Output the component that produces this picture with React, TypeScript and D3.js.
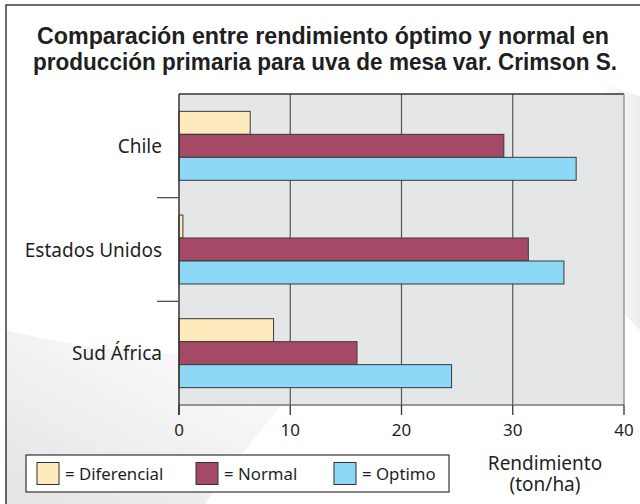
import React from "react";
import * as d3 from "d3";

const countries = ["Chile", "Estados Unidos", "Sud África"];
const seriesKeys = ["Diferencial", "Normal", "Optimo"];
const diferencial = [6.4, 0.35, 8.5];
const normal = [29.2, 31.4, 16.0];
const optimo = [35.7, 34.6, 24.5];
const xTicks = [0, 10, 20, 30, 40];
const titleLines = [
  "Comparación entre rendimiento óptimo y normal en",
  "producción primaria para uva de mesa var. Crimson S.",
];
const axisTitle = ["Rendimiento", "(ton/ha)"];

const seriesColors: Record<string, string> = {
  Diferencial: "#fdeabd",
  Normal: "#a44a66",
  Optimo: "#8dd7f7",
};

const width = 640;
const height = 504;
const plot = { left: 179, right: 624, top: 94, bottom: 405 };
const bodyFont = "'Noto Sans', 'Open Sans', sans-serif";
const titleFont = "'Liberation Sans', Arial, sans-serif";
const textColor = "#1f1f1f";
const titleSpan = [
  { x: 37, w: 572 },
  { x: 33, w: 584 },
];

export default function App() {
  const x = d3.scaleLinear().domain([0, 40]).range([plot.left, plot.right]);
  const y = d3.scaleBand<string>().domain(countries).range([plot.top, plot.bottom]);
  const inner = d3
    .scaleBand<string>()
    .domain(seriesKeys)
    .range([0, y.bandwidth()])
    .paddingInner(0)
    .paddingOuter(0.755);

  const rows = countries.map((c, i) => ({
    country: c,
    values: { Diferencial: diferencial[i], Normal: normal[i], Optimo: optimo[i] } as Record<string, number>,
  }));

  // separators between the categories
  const separators = countries.slice(1).map((c) => y(c) as number);

  const legendX = [37, 196, 334];

  return (
    <svg
      width={width}
      height={height}
      style={{ position: "absolute", left: 0, top: 0, background: "#fff" }}
    >
      <defs>
        <linearGradient id="swoosh" x1="0" y1="1" x2="1" y2="0">
          <stop offset="0" stopColor="#e4e4e4" />
          <stop offset="0.55" stopColor="#f4f4f4" />
          <stop offset="1" stopColor="#ffffff" />
        </linearGradient>
        <linearGradient id="swoosh2" x1="0" y1="0" x2="1" y2="0">
          <stop offset="0" stopColor="#ffffff" />
          <stop offset="1" stopColor="#e8e8e8" />
        </linearGradient>
      </defs>

      {/* soft background shapes */}
      <path d="M6,330 C120,360 250,360 330,345 C290,400 240,450 205,504 L6,504 Z" fill="url(#swoosh)" />
      <path d="M600,80 C620,90 635,95 640,96 L640,330 C630,320 620,310 612,300 Z" fill="url(#swoosh2)" opacity={0.8} />

      {/* outer frame */}
      <rect x={6} y={5} width={660} height={520} fill="none" stroke="#3a3a3a" strokeWidth={1.5} />

      {/* title */}
      {titleLines.map((t, i) => (
        <text
          key={t}
          x={titleSpan[i].x}
          y={44 + i * 26}
          textLength={titleSpan[i].w}
          lengthAdjust="spacingAndGlyphs"
          fontFamily={titleFont}
          fontWeight="bold"
          fontSize={24.5}
          fill={textColor}
        >
          {t}
        </text>
      ))}

      {/* plot background */}
      <rect
        x={plot.left}
        y={plot.top}
        width={plot.right - plot.left}
        height={plot.bottom - plot.top}
        fill="#e5e6e8"
      />

      {/* grid lines */}
      {xTicks.slice(1, -1).map((t) => (
        <line key={t} x1={x(t)} x2={x(t)} y1={plot.top} y2={plot.bottom} stroke="#555" strokeWidth={1.2} />
      ))}
      <line x1={plot.left} x2={plot.right} y1={plot.top} y2={plot.top} stroke="#333" strokeWidth={1.3} />
      <line x1={plot.right} x2={plot.right} y1={plot.top} y2={plot.bottom} stroke="#888" strokeWidth={1.3} />
      <line x1={plot.left} x2={plot.right} y1={plot.bottom} y2={plot.bottom} stroke="#777" strokeWidth={1.3} />

      {/* bars */}
      {rows.map((r) =>
        seriesKeys.map((k) => (
          <rect
            key={r.country + k}
            x={x(0)}
            y={(y(r.country) as number) + (inner(k) as number)}
            width={x(r.values[k]) - x(0)}
            height={inner.bandwidth()}
            fill={seriesColors[k]}
            stroke="#3a3a3a"
            strokeWidth={1}
          />
        ))
      )}

      {/* x axis ticks and labels */}
      {xTicks.map((t) => (
        <g key={t}>
          <line x1={x(t)} x2={x(t)} y1={plot.bottom} y2={plot.bottom + 10} stroke="#333" strokeWidth={1.3} />
          <text
            x={x(t)}
            y={436}
            textAnchor="middle"
            fontFamily={bodyFont}
            fontSize={17}
            fill={textColor}
          >
            {t}
          </text>
        </g>
      ))}

      {/* y axis */}
      <line x1={plot.left} x2={plot.left} y1={plot.top} y2={plot.bottom + 10} stroke="#333" strokeWidth={1.5} />
      {separators.map((s, i) => (
        <line key={i} x1={157} x2={plot.left} y1={s} y2={s} stroke="#555" strokeWidth={1.3} />
      ))}
      {countries.map((c) => (
        <text
          key={c}
          x={162}
          y={(y(c) as number) + y.bandwidth() / 2 + 7}
          textAnchor="end"
          fontFamily={bodyFont}
          fontSize={19}
          fill={textColor}
        >
          {c}
        </text>
      ))}

      {/* axis title */}
      {axisTitle.map((t, i) => (
        <text
          key={t}
          x={545}
          y={470 + i * 21}
          textAnchor="middle"
          fontFamily={bodyFont}
          fontSize={19}
          fill={textColor}
        >
          {t}
        </text>
      ))}

      {/* legend */}
      <rect x={26} y={455} width={423} height={37} fill="#fff" stroke="#333" strokeWidth={1.2} />
      {seriesKeys.map((k, i) => (
        <g key={k}>
          <rect x={legendX[i]} y={462.5} width={22} height={22} fill={seriesColors[k]} stroke="#333" strokeWidth={1} />
          <text
            x={legendX[i] + 28}
            y={480}
            fontFamily={bodyFont}
            fontSize={16.8}
            fill={textColor}
          >
            = {k}
          </text>
        </g>
      ))}
    </svg>
  );
}
